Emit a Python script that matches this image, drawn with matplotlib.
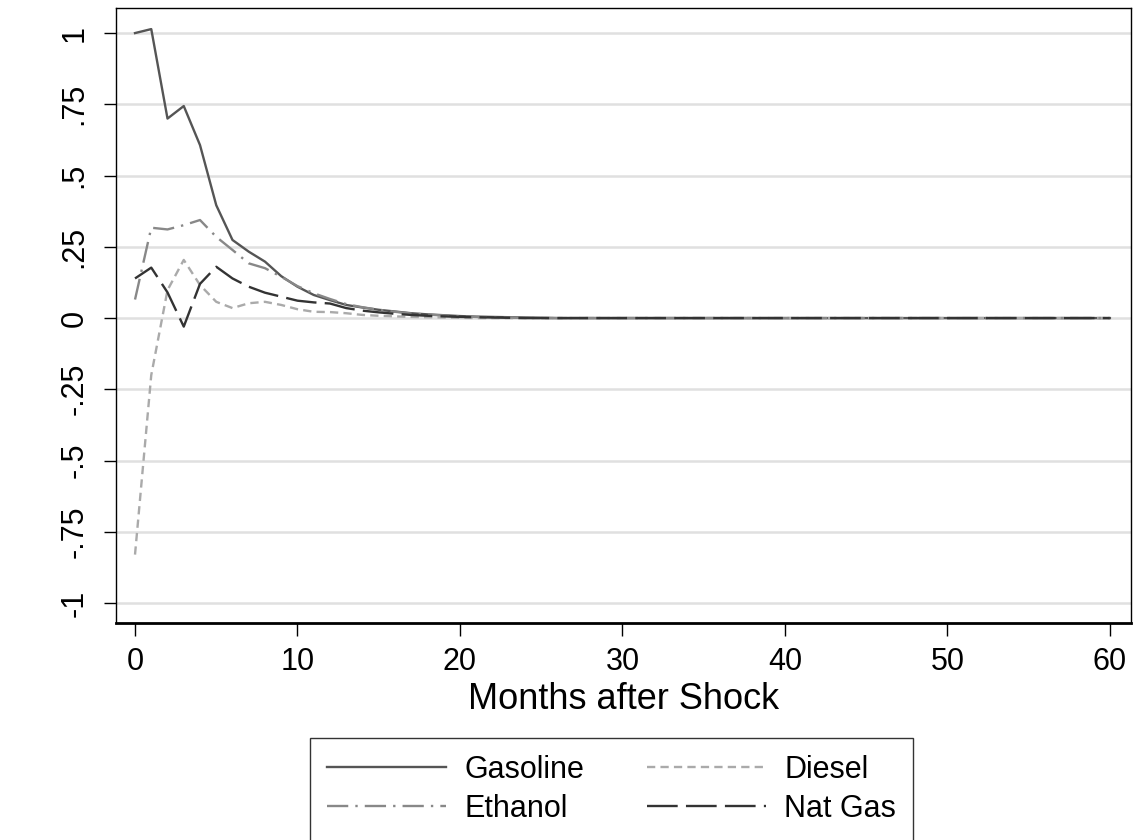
import matplotlib
matplotlib.use("Agg")
import matplotlib.pyplot as plt
import numpy as np

plt.rcParams['font.family'] = ['Liberation Sans', 'DejaVu Sans']

months = list(range(61))
gasoline = [1.0, 1.014, 0.70, 0.744, 0.607, 0.396, 0.274, 0.233, 0.198, 0.147,
            0.110, 0.081, 0.063, 0.046, 0.037, 0.029, 0.023, 0.017, 0.013, 0.010,
            0.007, 0.005, 0.004, 0.003, 0.002, 0.001] + [0.0] * 35
diesel = [-0.83, -0.20, 0.098, 0.204, 0.116, 0.057, 0.035, 0.052, 0.057, 0.046,
          0.031, 0.022, 0.021, 0.017, 0.011, 0.008, 0.006, 0.004, 0.003, 0.002,
          0.001] + [0.0] * 40
ethanol = [0.065, 0.317, 0.311, 0.326, 0.344, 0.285, 0.239, 0.192, 0.175, 0.145,
           0.112, 0.087, 0.067, 0.049, 0.038, 0.029, 0.022, 0.016, 0.012, 0.009,
           0.006, 0.004, 0.003, 0.002, 0.001] + [0.0] * 36
natgas = [0.139, 0.177, 0.09, -0.03, 0.12, 0.18, 0.139, 0.11, 0.089, 0.075,
          0.061, 0.055, 0.051, 0.035, 0.026, 0.020, 0.015, 0.011, 0.008, 0.006,
          0.004, 0.003, 0.002, 0.001] + [0.0] * 37

yticks = [-1, -0.75, -0.5, -0.25, 0, 0.25, 0.5, 0.75, 1]
ytick_labels = ['-1', '-.75', '-.5', '-.25', '0', '.25', '.5', '.75', '1']
xticks = [0, 10, 20, 30, 40, 50, 60]

fig = plt.figure(figsize=(11.38, 8.4), dpi=100)
ax = fig.add_axes([116/1138, 1 - 623/840, (1131-116)/1138, (623-8)/840])

for y in yticks:
    ax.axhline(y, color='#e0e0e0', lw=1.8, zorder=0)

lw = 1.7
ax.plot(months, gasoline, color='#555555', lw=lw, label='Gasoline')
ax.plot(months, diesel, color='#aaaaaa', lw=lw, dashes=(3.5, 2.2), label='Diesel')
ax.plot(months, ethanol, color='#888888', lw=lw, dashes=(9, 3, 1, 3), label='Ethanol')
ax.plot(months, natgas, color='#333333', lw=lw, dashes=(13, 3.5), label='Nat Gas')

ax.set_xlim(-1.17, 61.3)
ax.set_ylim(-1.07, 1.088)
ax.set_yticks(yticks)
ax.set_yticklabels(ytick_labels, rotation=90, va='center')
ax.set_xticks(xticks)
ax.tick_params(axis='both', direction='out', labelsize=22, width=1, colors='black')
ax.tick_params(axis='y', length=9, pad=10)
ax.tick_params(axis='x', length=9, pad=8)
for s in ax.spines.values():
    s.set_linewidth(1.0)
ax.spines['bottom'].set_linewidth(2.0)
ax.set_xlabel('Months after Shock', fontsize=26, labelpad=4)

h, l = ax.get_legend_handles_labels()
order = [0, 2, 1, 3]
leg = fig.legend([h[i] for i in order], [l[i] for i in order], ncol=2,
                 loc='upper center', bbox_to_anchor=(0.5374, 1 - 738/840),
                 borderaxespad=0,
                 fontsize=22, handlelength=3.9, handletextpad=0.6,
                 columnspacing=2.05, frameon=True, fancybox=False,
                 edgecolor='black', borderpad=0.55, labelspacing=0.3)
leg.get_frame().set_linewidth(1.0)

fig.savefig('out.png', dpi=100)
